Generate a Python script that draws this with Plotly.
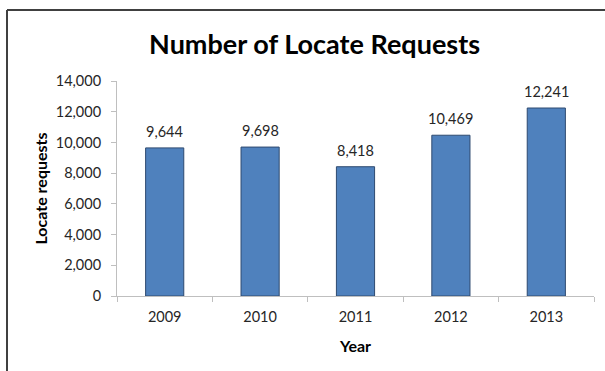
import plotly.graph_objects as go

# Annual locate request counts
years = ["2009", "2010", "2011", "2012", "2013"]
requests = [9644, 9698, 8418, 10469, 12241]
y_ticks = [0, 2000, 4000, 6000, 8000, 10000, 12000, 14000]

FONT = "Lato"
TEXT = "#262626"
AXIS = "#BFBFBF"

fig = go.Figure()
fig.add_trace(go.Bar(
    x=years,
    y=requests,
    marker=dict(color="#4F81BD", line=dict(color="#2E4A70", width=1)),
    hoverinfo="x+y",
))

# value labels above each bar (category index positions)
for i, v in enumerate(requests):
    fig.add_annotation(
        x=i, y=v, text=f"{v:,}", showarrow=False,
        yanchor="bottom", yshift=6,
        font=dict(family=FONT, size=14.5, color=TEXT),
    )

fig.update_layout(
    width=605, height=371,
    margin=dict(l=117, r=11, t=81, b=75, autoexpand=False),
    paper_bgcolor="white", plot_bgcolor="white",
    bargap=0.6,
    showlegend=False,
    title=dict(
        text="<b>Number of Locate Requests</b>",
        x=0.52, xanchor="center", y=0.88, yanchor="middle",
        font=dict(family=FONT, size=27, color="black"),
    ),
    xaxis=dict(
        type="category",
        showline=True, linecolor=AXIS, linewidth=1,
        ticks="outside", tickson="boundaries", ticklen=5, tickcolor=AXIS,
        tickangle=0, automargin=False, ticklabelstandoff=8,
        tickfont=dict(family=FONT, size=14.5, color=TEXT),
        title=dict(text="<b>Year</b>", standoff=16,
                   font=dict(family=FONT, size=16, color="black")),
        showgrid=False,
    ),
    yaxis=dict(
        range=[0, 14000],
        tickvals=y_ticks, tickformat=",",
        showline=True, linecolor=AXIS, linewidth=1,
        ticks="outside", ticklen=5, tickcolor=AXIS,
        automargin=False, ticklabelstandoff=7,
        tickfont=dict(family=FONT, size=14.5, color=TEXT),
        title=dict(text="<b>Locate requests</b>", standoff=4,
                   font=dict(family=FONT, size=16, color="black")),
        showgrid=False, zeroline=False,
    ),
)

# chart frame: top edge and left edge
fig.add_shape(type="line", xref="paper", yref="paper",
              x0=(7 - 117) / 477, x1=1.05, y0=(296 - 10) / 215, y1=(296 - 10) / 215,
              line=dict(color="#404040", width=2))
fig.add_shape(type="line", xref="paper", yref="paper",
              x0=(7 - 117) / 477, x1=(7 - 117) / 477, y0=(296 - 10) / 215, y1=-0.4,
              line=dict(color="#404040", width=2))

fig.write_html("out.html")
